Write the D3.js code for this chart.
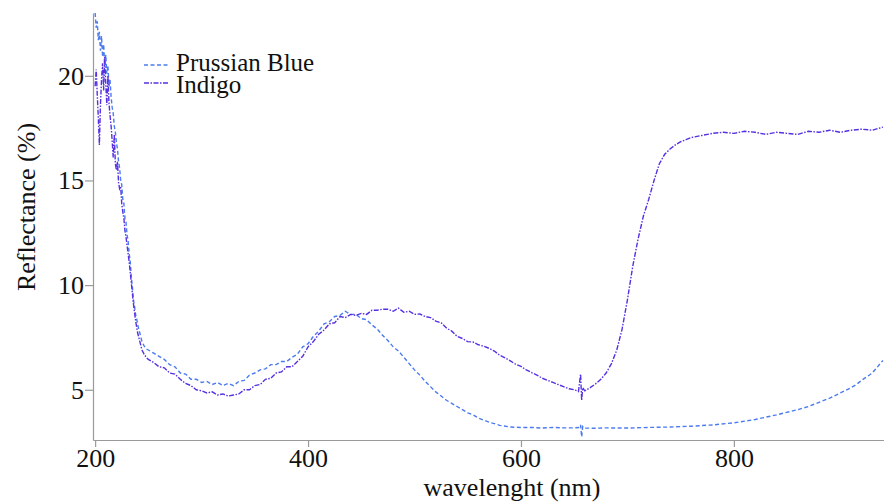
<!DOCTYPE html>
<html>
<head>
  <style>
    body { margin: 0; background: #fff; }
    text { font-family: "Liberation Serif", "Times New Roman", serif; fill: #111; }
    .axis path, .axis line { stroke: #9a9a9a; stroke-width: 1.2px; }
    .axis text { font-size: 26px; font-family: "Liberation Serif", serif; fill: #111; }
  </style>
</head>
<body>
  <svg id="chart" width="884" height="502"></svg>

  <script src="https://d3js.org/d3.v7.min.js"></script>
  <script>
    // Reflectance spectra (wavelength in nm, reflectance in %)
    const pbWl = [200, 201, 202, 203, 204, 205, 206, 207, 208, 209, 210, 211, 212, 213, 214,
      215, 216, 217, 218, 219, 220, 221, 222, 223, 224, 225, 226, 227, 228, 229, 230,
      231, 232, 233, 234, 235, 236, 237, 238, 239, 240, 242, 244, 246, 248, 250,
      255, 260, 265, 270, 275, 280, 285, 290, 295, 300, 305, 310, 315, 320, 325, 330, 335,
      340, 345, 350, 355, 360, 365, 370, 375, 380, 385, 390, 395, 400, 405, 410, 415, 420,
      425, 430, 435, 440, 445, 450, 455, 460, 465, 470, 475, 480, 485, 490, 495, 500, 505,
      510, 515, 520, 525, 530, 535, 540, 545, 550, 555, 560, 565, 570, 575, 580, 590, 600,
      610, 620, 630, 640, 650, 655, 656, 657, 658, 660, 670, 680, 690, 700, 720, 740, 760,
      780, 800, 820, 840, 860, 870, 880, 890, 900, 910, 915, 920, 930, 940];
    const pbR = [23.0, 22.3, 22.6, 21.7, 22.1, 21.2, 21.9, 20.9, 21.5, 20.5, 21.0, 20.1, 20.5, 19.5, 19.8,
      19.0, 18.5, 18.2, 17.6, 17.3, 16.8, 16.5, 15.9, 15.6, 15.0, 14.8, 14.1, 13.9, 13.2, 13.0, 12.4,
      12.1, 11.5, 11.1, 10.4, 9.9, 9.3, 9.0, 8.6, 8.4, 8.1, 7.7, 7.3, 7.1, 6.95, 6.9,
      6.75, 6.6, 6.45, 6.2, 6.1, 5.8, 5.75, 5.5, 5.5, 5.35, 5.4, 5.25, 5.35, 5.2, 5.3, 5.2, 5.4,
      5.45, 5.7, 5.8, 5.95, 6.0, 6.2, 6.2, 6.35, 6.35, 6.55, 6.7, 7.05, 7.2, 7.55, 7.8, 8.15, 8.25,
      8.5, 8.55, 8.75, 8.6, 8.6, 8.4, 8.35, 8.1, 7.9, 7.6, 7.35, 7.05, 6.85, 6.55, 6.25, 5.95, 5.7,
      5.4, 5.15, 4.9, 4.7, 4.5, 4.35, 4.2, 4.05, 3.9, 3.8, 3.65, 3.55, 3.45, 3.38, 3.3, 3.22, 3.2,
      3.2, 3.17, 3.2, 3.18, 3.18, 3.2, 3.32, 2.75, 3.25, 3.17, 3.16, 3.18, 3.17, 3.17, 3.2, 3.22, 3.26,
      3.32, 3.42, 3.58, 3.8, 4.05, 4.2, 4.4, 4.6, 4.85, 5.1, 5.25, 5.45, 5.8, 6.4];

    const inWl = [200, 201, 202, 203, 204, 205, 206, 207, 208, 209, 210, 211, 212, 213, 214,
      215, 216, 217, 218, 219, 220, 221, 222, 223, 224, 225, 226, 227, 228, 229, 230,
      231, 232, 233, 234, 235, 236, 237, 238, 239, 240, 242, 244, 246, 248, 250,
      255, 260, 265, 270, 275, 280, 285, 290, 295, 300, 305, 310, 315, 320, 325, 330, 335,
      340, 345, 350, 355, 360, 365, 370, 375, 380, 385, 390, 395, 400, 405, 410, 415, 420,
      425, 430, 435, 440, 445, 450, 455, 460, 465, 470, 475, 480, 485, 490, 495, 500, 505,
      510, 515, 520, 525, 530, 535, 540, 545, 550, 555, 560, 565, 570, 575, 580, 585, 590,
      595, 600, 605, 610, 615, 620, 625, 630, 635, 640, 645, 650, 654, 656, 657, 658, 660,
      665, 670, 675, 680, 685, 690, 695, 700, 705, 710, 715, 720, 725, 730, 735, 740, 745,
      750, 755, 760, 770, 780, 790, 800, 810, 820, 830, 840, 850, 860, 870, 880, 890, 900,
      910, 920, 930, 940];
    const inR = [19.5, 20.3, 19.1, 18.0, 16.7, 18.6, 19.8, 20.6, 19.3, 20.9, 19.6, 18.6, 20.0, 18.7, 18.1,
      17.6, 16.9, 16.1, 17.2, 15.8, 15.5, 15.9, 14.9, 14.6, 14.7, 13.9, 13.5, 13.2, 12.6, 12.3, 11.9,
      11.5, 11.1, 10.6, 10.1, 9.6, 9.1, 8.7, 8.3, 8.0, 7.7, 7.3, 6.9, 6.7, 6.55, 6.45,
      6.3, 6.1, 6.05, 5.8, 5.75, 5.5, 5.3, 5.2, 5.0, 4.95, 4.85, 4.9, 4.75, 4.8, 4.7, 4.75, 4.8,
      5.0, 5.0, 5.2, 5.25, 5.5, 5.55, 5.8, 5.85, 6.1, 6.1, 6.35, 6.6, 7.05, 7.3, 7.65, 7.85, 8.15,
      8.2, 8.5, 8.45, 8.6, 8.55, 8.65, 8.6, 8.8, 8.8, 8.85, 8.85, 8.75, 8.9, 8.7, 8.75, 8.6, 8.62,
      8.5, 8.45, 8.28, 8.2, 7.95, 7.8, 7.55, 7.45, 7.3, 7.28, 7.15, 7.08, 6.98, 6.85, 6.65, 6.52, 6.38,
      6.22, 6.12, 5.95, 5.82, 5.7, 5.55, 5.45, 5.35, 5.25, 5.15, 5.05, 5.0, 4.92, 5.75, 4.5, 5.1, 4.95,
      5.1, 5.28, 5.5, 5.8, 6.25, 6.9, 7.9, 9.3, 10.9, 12.2, 13.3, 14.1, 15.0, 15.8, 16.25, 16.5, 16.7,
      16.85, 16.95, 17.05, 17.15, 17.25, 17.3, 17.25, 17.35, 17.3, 17.2, 17.3, 17.25, 17.2, 17.35, 17.3, 17.4, 17.3,
      17.4, 17.45, 17.4, 17.55];

    const series = [
      { name: "Prussian Blue", wl: pbWl, r: pbR, color: "#4c7bef", dash: "4,2.5" },
      { name: "Indigo", wl: inWl, r: inR, color: "#5630e2", dash: "5,1.5,1.5,1.5" }
    ];

    const xTicks = [200, 400, 600, 800];
    const yTicks = [5, 10, 15, 20];

    const svg = d3.select("#chart");
    const plotLeft = 93, plotRight = 884, plotTop = 13, plotBottom = 440;

    const x = d3.scaleLinear().domain([198, 941]).range([plotLeft, plotRight]);
    const y = d3.scaleLinear().domain([2.6, 23.0]).range([plotBottom, plotTop]);

    svg.append("defs").append("clipPath").attr("id", "clip")
      .append("rect").attr("x", plotLeft).attr("y", 0)
      .attr("width", plotRight - plotLeft).attr("height", plotBottom);

    // Axes
    svg.append("g").attr("class", "axis")
      .attr("transform", `translate(0,${plotBottom})`)
      .call(d3.axisBottom(x).tickValues(xTicks).tickSize(7).tickSizeOuter(0).tickPadding(2));

    svg.append("g").attr("class", "axis")
      .attr("transform", `translate(${plotLeft},0)`)
      .call(d3.axisLeft(y).tickValues(yTicks).tickSize(8).tickSizeOuter(0).tickPadding(1));

    // Curves
    const line = d3.line()
      .x(d => x(d[0]))
      .y(d => y(d[1]));

    svg.append("g").attr("clip-path", "url(#clip)")
      .selectAll("path")
      .data(series)
      .enter().append("path")
      .attr("fill", "none")
      .attr("stroke", d => d.color)
      .attr("stroke-width", 1.4)
      .attr("stroke-dasharray", d => d.dash)
      .attr("d", d => line(d.wl.map((w, i) => [w, d.r[i]])));

    // Axis titles
    svg.append("text")
      .attr("x", 512).attr("y", 496)
      .attr("text-anchor", "middle")
      .style("font-size", "26px")
      .text("wavelenght (nm)");

    svg.append("text")
      .attr("transform", "translate(35,207) rotate(-90)")
      .attr("text-anchor", "middle")
      .style("font-size", "26px")
      .text("Reflectance (%)");

    // Legend
    const legend = svg.append("g");
    series.forEach((s, i) => {
      legend.append("line")
        .attr("x1", 144).attr("x2", 168)
        .attr("y1", 65 + i * 18).attr("y2", 65 + i * 18)
        .attr("stroke", s.color)
        .attr("stroke-width", 1.4)
        .attr("stroke-dasharray", s.dash);
      legend.append("text")
        .attr("x", 176).attr("y", 71 + i * 22)
        .style("font-size", "25px")
        .text(s.name);
    });
  </script>
</body>
</html>
